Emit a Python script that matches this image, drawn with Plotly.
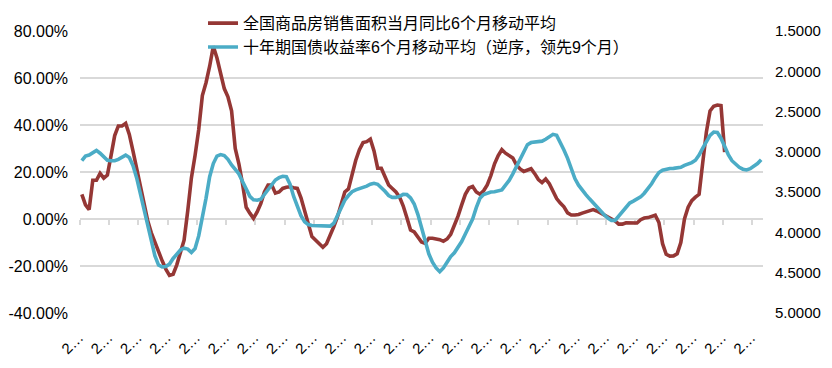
import plotly.graph_objects as go
import pandas as pd

# ---------------- data ----------------
months = pd.period_range("2007-01", "2022-07", freq="M").strftime("%Y-%m").tolist()

# 全国商品房销售面积当月同比 6个月移动平均 (%)
sales_yoy_ma6 = [
    10.5, 6, 4, 16.5, 16.5, 19.4, 17.4, 18.7, 27, 35.5,
    39.6, 39.6, 40.7, 36, 29, 21.5, 13.5, 6, -0.5, -5.8,
    -10, -14.6, -17.8, -21.3, -24, -23.5, -19.5, -14.2, -9, 3.5,
    17.5, 27, 38, 52.5, 58, 65, 73.5, 68.5, 62, 55.5,
    52, 46, 30, 23.5, 15, 5, 2.5, 0.3, 3, 6.5,
    11.5, 14.5, 14.5, 11, 11.5, 13, 13.5, 13.7, 13.3, 13,
    9, 4, -2, -7.5, -9, -10.5, -12, -10.5, -7.2, -3.2,
    1, 6, 11.5, 12.8, 19.5, 25, 29.5, 32.5, 32.9, 34,
    29, 21.6, 21.6, 18, 14.5, 13, 11.5, 9.3, 5.5, 0.5,
    -4.7, -5.5, -8, -9.8, -10.4, -8.2, -8.2, -8.5, -8.8, -9.5,
    -8.5, -6.5, -3, 1.2, 6, 10.5, 13.2, 13.8, 11.5, 10.5,
    12, 14.5, 18.5, 23.5, 27, 29.5, 28, 26.8, 26, 23,
    21.3, 20.2, 21, 21.4, 19.3, 16.8, 15.5, 17, 15, 11.8,
    8.7, 6.8, 5.2, 2.6, 1.7, 1.7, 1.9, 2.5, 3.1, 3.5,
    4, 3.4, 2.5, 1.8, 1, 0.2, -0.8, -2.2, -2.2, -1.6,
    -1.7, -1.8, -1.7, -0.3, 0.4, 0.6, 1, 1.6, -1.5, -10.5,
    -15, -15.8, -15.7, -14.8, -10, 0, 5, 7.8, 9.3, 10.5,
    24, 37, 46, 48, 48.5, 48.3, 28.5,
]

# 十年期国债收益率 6个月移动平均 (逆序, 领先9个月)
bond_yield_ma6 = [
    3.11, 3.052, 3.04, 3.005, 2.982, 3.017, 3.063, 3.104, 3.11, 3.11,
    3.093, 3.069, 3.04, 3.069, 3.168, 3.32, 3.518, 3.74, 3.927, 4.102,
    4.288, 4.405, 4.428, 4.423, 4.393, 4.323, 4.265, 4.218, 4.195, 4.207,
    4.248, 4.201, 4.043, 3.822, 3.577, 3.308, 3.145, 3.052, 3.034, 3.046,
    3.093, 3.163, 3.227, 3.273, 3.367, 3.472, 3.553, 3.594, 3.6, 3.588,
    3.53, 3.46, 3.402, 3.349, 3.32, 3.303, 3.308, 3.402, 3.553, 3.682,
    3.793, 3.868, 3.903, 3.915, 3.916, 3.919, 3.922, 3.927, 3.921, 3.886,
    3.798, 3.693, 3.6, 3.542, 3.495, 3.472, 3.46, 3.444, 3.425, 3.402,
    3.39, 3.402, 3.443, 3.489, 3.542, 3.565, 3.565, 3.553, 3.527, 3.53,
    3.571, 3.647, 3.775, 3.938, 4.113, 4.265, 4.37, 4.44, 4.487, 4.44,
    4.37, 4.3, 4.253, 4.183, 4.113, 4.02, 3.938, 3.833, 3.693, 3.577,
    3.53, 3.509, 3.499, 3.495, 3.489, 3.472, 3.413, 3.355, 3.273, 3.18,
    3.075, 2.982, 2.912, 2.885, 2.876, 2.873, 2.867, 2.844, 2.807, 2.783,
    2.795, 2.877, 2.976, 3.081, 3.203, 3.332, 3.413, 3.478, 3.53, 3.583,
    3.635, 3.688, 3.74, 3.781, 3.822, 3.851, 3.851, 3.798, 3.74, 3.699,
    3.635, 3.612, 3.588, 3.559, 3.513, 3.46, 3.396, 3.32, 3.256, 3.227,
    3.213, 3.206, 3.205, 3.201, 3.192, 3.168, 3.153, 3.133, 3.104, 3.04,
    2.953, 2.865, 2.795, 2.754, 2.76, 2.83, 2.941, 3.034, 3.11, 3.157,
    3.192, 3.215, 3.224, 3.209, 3.18, 3.145, 3.098,
]

series_names = ["全国商品房销售面积当月同比6个月移动平均",
                "十年期国债收益率6个月移动平均（逆序，领先9个月）"]

left_tick_values = [-40, -20, 0, 20, 40, 60, 80]
left_tick_labels = ["-40.00%", "-20.00%", "0.00%", "20.00%", "40.00%", "60.00%", "80.00%"]
right_tick_values = [1.5, 2.0, 2.5, 3.0, 3.5, 4.0, 4.5, 5.0]
right_tick_labels = ["1.5000", "2.0000", "2.5000", "3.0000", "3.5000", "4.0000", "4.5000", "5.0000"]
x_tick_every = 8
x_tick_label = "2…"

# ---------------- figure ----------------
n = len(months)
idx = list(range(n))
red_vals = sales_yoy_ma6 + [None] * (n - len(sales_yoy_ma6))

RED = "#953735"
BLUE = "#4BACC6"
GRID = "#d9d9d9"
FONT = "Liberation Sans, Arial, Noto Sans CJK SC, sans-serif"

tick_pos = [k - 0.5 for k in range(0, n, x_tick_every)]
tick_txt = [x_tick_label] * len(tick_pos)

fig = go.Figure()
fig.add_trace(go.Scatter(x=idx, y=red_vals, name=series_names[0], mode="lines",
                         line=dict(color=RED, width=3.6), customdata=months,
                         hovertemplate="%{customdata}: %{y:.2f}%<extra></extra>"))
fig.add_trace(go.Scatter(x=idx, y=bond_yield_ma6, name=series_names[1], mode="lines",
                         line=dict(color=BLUE, width=3.6), yaxis="y2", customdata=months,
                         hovertemplate="%{customdata}: %{y:.4f}<extra></extra>"))

fig.update_layout(
    width=832, height=368,
    margin=dict(l=80, r=69, t=31, b=55, autoexpand=False),
    paper_bgcolor="white", plot_bgcolor="white",
    font=dict(family=FONT, size=15, color="#000000"),
    showlegend=True,
    legend=dict(xref="container", yref="container", x=0.244, y=0.983,
                xanchor="left", yanchor="top",
                bgcolor="rgba(0,0,0,0)", font=dict(size=16, family=FONT),
                tracegroupgap=5, traceorder="normal"),
    xaxis=dict(range=[-0.5, n - 0.5], anchor="free", position=1 / 3,
               showline=True, linecolor=GRID, linewidth=1.5,
               ticks="outside", ticklen=5, tickwidth=1.5, tickcolor=GRID,
               tickmode="array", tickvals=tick_pos, ticktext=tick_txt,
               tickangle=-45, ticklabelstandoff=98, ticklabelshift=-1,
               tickfont=dict(size=15, family=FONT), automargin=False,
               showgrid=False, zeroline=False, layer="below traces", fixedrange=True),
    yaxis=dict(range=[-40, 80], tickmode="array", tickvals=left_tick_values,
               ticktext=left_tick_labels, showgrid=True, gridcolor=GRID, gridwidth=1.5,
               zeroline=False, ticks="", showline=False, ticklabelstandoff=11,
               tickfont=dict(size=16, family=FONT), automargin=False),
    yaxis2=dict(range=[5.0, 1.5], overlaying="y", side="right", tickmode="array",
                tickvals=right_tick_values, ticktext=right_tick_labels,
                showgrid=False, zeroline=False, ticks="", showline=False,
                ticklabelstandoff=11, tickfont=dict(size=15, family=FONT),
                automargin=False),
)
for i, tr in enumerate(fig.data):
    tr.legendgroup = f"g{i}"

fig.write_html(
    "out.html",
    config={"displayModeBar": False},
    post_script="document.body.style.margin='0';document.body.style.padding='0';",
)
